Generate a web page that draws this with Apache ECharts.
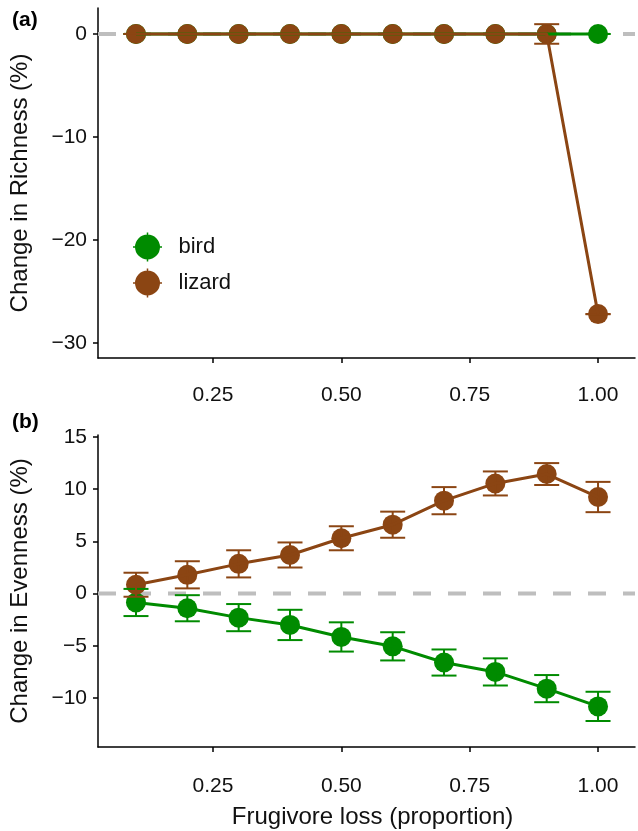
<!DOCTYPE html>
<html><head><meta charset="utf-8">
<script src="https://cdn.jsdelivr.net/npm/echarts@6/dist/echarts.min.js"></script>
<style>html,body{margin:0;padding:0;background:#fff}#c{width:638px;height:831px}</style>
</head><body><div id="c"></div>
<script>
// ---- data ----
const xLoss = [0.1, 0.2, 0.3, 0.4, 0.5, 0.6, 0.7, 0.8, 0.9, 1.0];
const xTicks = [0.25, 0.5, 0.75, 1.0];
const richTicks = [-30, -20, -10, 0];
const evenTicks = [-10, -5, 0, 5, 10, 15];
const richBird     = [0, 0, 0, 0, 0, 0, 0, 0, 0, 0];
const richBirdSE   = [0, 0, 0, 0, 0, 0, 0, 0, 0, 0];
const richLizard   = [0, 0, 0, 0, 0, 0, 0, 0, 0, -27.2];
const richLizardSE = [0, 0, 0, 0, 0, 0, 0, 0, 0.95, 0];
const evenBird     = [-0.85, -1.4, -2.3, -3.0, -4.15, -5.05, -6.6, -7.5, -9.1, -10.8];
const evenBirdSE   = [1.3, 1.25, 1.3, 1.45, 1.4, 1.35, 1.25, 1.3, 1.3, 1.4];
const evenLizard   = [0.85, 1.8, 2.85, 3.7, 5.3, 6.6, 8.9, 10.55, 11.45, 9.25];
const evenLizardSE = [1.15, 1.3, 1.3, 1.2, 1.15, 1.25, 1.3, 1.15, 1.05, 1.45];

// ---- style ----
const FONT = '"Liberation Sans", Arial, sans-serif';
const GREEN = '#008B00', BROWN = '#8B4513';
const XMIN = 0.026, XMAX = 1.072;

const pts = (ys) => xLoss.map((x, i) => [x, ys[i]]);
const bars = (ys, se) => xLoss.map((x, i) => [x, ys[i] - se[i], ys[i] + se[i]]);

function xAxisCfg(g, margin, name) {
  return {
    type: 'value', gridIndex: g, min: XMIN, max: XMAX,
    axisLine: {show: true, onZero: false, lineStyle: {color: '#000', width: 1.5}},
    axisTick: {show: true, length: 5, customValues: xTicks, lineStyle: {color: '#000', width: 1.5}},
    axisLabel: {customValues: xTicks, formatter: v => v.toFixed(2), fontSize: 21, color: '#111', fontFamily: FONT, margin: margin},
    splitLine: {show: false},
    name: name || '', nameLocation: 'middle', nameGap: 58,
    nameTextStyle: {fontSize: 24, color: '#111', fontFamily: FONT, padding: [0, 0, 0, 12]}
  };
}
function yAxisCfg(g, min, max, ticks, name) {
  return {
    type: 'value', gridIndex: g, min: min, max: max,
    axisLine: {show: true, onZero: false, lineStyle: {color: '#000', width: 1.5}},
    axisTick: {show: true, length: 5, customValues: ticks, lineStyle: {color: '#000', width: 1.5}},
    axisLabel: {customValues: ticks, formatter: v => (v < 0 ? '\u2212' + Math.abs(v) : String(v)), fontSize: 21, color: '#111', fontFamily: FONT, margin: 11},
    splitLine: {show: false},
    name: name, nameLocation: 'middle', nameGap: 66,
    nameTextStyle: {fontSize: 24, color: '#111', fontFamily: FONT}
  };
}
function errSeries(name, color, g, data, z) {
  return {
    type: 'custom', name: name, xAxisIndex: g, yAxisIndex: g, z: z, silent: true,
    encode: {x: 0, y: [1, 2]}, data: data,
    renderItem: function (params, api) {
      const x = api.value(0);
      const lo = api.coord([x, api.value(1)]);
      const hi = api.coord([x, api.value(2)]);
      const h = 12.5;
      const st = {stroke: color, lineWidth: 2, fill: null};
      return {type: 'group', children: [
        {type: 'line', shape: {x1: lo[0], y1: lo[1], x2: hi[0], y2: hi[1]}, style: st},
        {type: 'line', shape: {x1: lo[0] - h, y1: lo[1], x2: lo[0] + h, y2: lo[1]}, style: st},
        {type: 'line', shape: {x1: hi[0] - h, y1: hi[1], x2: hi[0] + h, y2: hi[1]}, style: st}
      ]};
    }
  };
}
function ptSeries(name, color, g, data, z) {
  return {type: 'scatter', name: name, xAxisIndex: g, yAxisIndex: g, z: z, silent: true,
    symbol: 'circle', symbolSize: 20, itemStyle: {color: color, opacity: 1}, data: data};
}
function lnSeries(name, color, g, data, z) {
  return {type: 'line', name: name, xAxisIndex: g, yAxisIndex: g, z: z, silent: true,
    showSymbol: false, symbol: 'none', lineStyle: {color: color, width: 3}, itemStyle: {color: color}, data: data};
}
function zeroSeries(g) {
  return {type: 'line', xAxisIndex: g, yAxisIndex: g, z: 1, silent: true, showSymbol: false, symbol: 'none',
    lineStyle: {color: '#bebebe', width: 4, type: [18, 17]}, data: [[XMIN, 0], [XMAX, 0]]};
}

const legendIcon = 'path://M14.5,2 A12.5,12.5 0 0 1 14.5,27 A12.5,12.5 0 0 1 14.5,2 Z M0,13.75 H29 V15.25 H0 Z M13.75,0 H15.25 V29 H13.75 Z';

const option = {
  animation: false,
  backgroundColor: '#fff',
  title: [
    {text: '(a)', left: 12, top: 10, padding: 0, textStyle: {fontSize: 21, fontWeight: 'bold', color: '#000', fontFamily: FONT}},
    {text: '(b)', left: 12, top: 412, padding: 0, textStyle: {fontSize: 21, fontWeight: 'bold', color: '#000', fontFamily: FONT}}
  ],
  legend: {
    data: ['bird', 'lizard'], orient: 'vertical', left: 133, top: 232.5, padding: 0,
    itemWidth: 52, itemHeight: 29, itemGap: 7, icon: legendIcon,
    textStyle: {fontSize: 22, color: '#111', fontFamily: FONT}, selectedMode: false
  },
  grid: [
    {left: 98, right: 3, top: 8, height: 350},
    {left: 98, right: 3, top: 435, bottom: 84}
  ],
  xAxis: [xAxisCfg(0, 27), xAxisCfg(1, 29, 'Frugivore loss (proportion)')],
  yAxis: [
    yAxisCfg(0, -31.46, 2.52, richTicks, 'Change in Richness (%)'),
    yAxisCfg(1, -14.69, 15.19, evenTicks, 'Change in Evenness (%)')
  ],
  series: [
    ptSeries('bird', GREEN, 0, pts(richBird), 2),
    ptSeries('lizard', BROWN, 0, pts(richLizard), 4),
    zeroSeries(0),
    errSeries('bird', GREEN, 0, bars(richBird, richBirdSE), 3),
    errSeries('lizard', BROWN, 0, bars(richLizard, richLizardSE), 5),
    lnSeries('bird', GREEN, 0, pts(richBird), 6),
    lnSeries('lizard', BROWN, 0, pts(richLizard), 6),

    zeroSeries(1),
    ptSeries('bird', GREEN, 1, pts(evenBird), 2),
    ptSeries('lizard', BROWN, 1, pts(evenLizard), 2),
    errSeries('bird', GREEN, 1, bars(evenBird, evenBirdSE), 3),
    errSeries('lizard', BROWN, 1, bars(evenLizard, evenLizardSE), 3),
    lnSeries('bird', GREEN, 1, pts(evenBird), 4),
    lnSeries('lizard', BROWN, 1, pts(evenLizard), 4)
  ]
};
const chart = echarts.init(document.getElementById('c'), null, {renderer: 'canvas'});
chart.setOption(option);
</script>
</body></html>
